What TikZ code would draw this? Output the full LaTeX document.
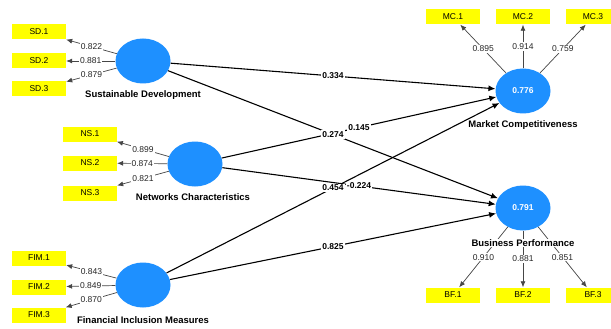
\documentclass[tikz,border=0pt]{standalone}
\usepackage{fontspec}
\setmainfont{Liberation Sans}
\usetikzlibrary{shapes.geometric,arrows.meta}
\definecolor{lvblue}{RGB}{30,144,255}
\definecolor{itemyellow}{RGB}{255,255,0}
\definecolor{loadgray}{RGB}{70,70,70}
\begin{document}
\begin{tikzpicture}[x=1pt,y=-1pt,
  latent/.style={ellipse,fill=lvblue,draw=none,minimum width=55pt,minimum height=45pt,inner sep=0pt,
    text=white,font=\fontsize{8.5}{10}\selectfont\bfseries},
  itembox/.style={rectangle,fill=itemyellow,draw=none,minimum width=54pt,minimum height=15pt,inner sep=0pt,
    font=\fontsize{8.5}{10}\selectfont},
  lvname/.style={font=\fontsize{9.5}{11}\selectfont\bfseries,inner sep=1pt,fill=white},
  structpath/.style={draw=black,line width=1.1pt,-{Latex[length=7pt,width=6pt]}},
  loadpath/.style={draw=loadgray,line width=0.7pt,-{Latex[length=6pt,width=5pt]}},
  pathlbl/.style={fill=white,inner sep=1pt,font=\fontsize{8.5}{10}\selectfont\bfseries,pos=0.5},
  loadlbl/.style={fill=white,inner sep=1pt,font=\fontsize{8.5}{10}\selectfont,text=black!85,pos=0.5}
]
\useasboundingbox (0,0) rectangle (611,329);
\clip (0,0) rectangle (611,329);
\fill[white] (0,0) rectangle (611,329);

% latent variables
\node[latent] (sd) at (143,61) {};
\node[latent] (ns) at (195,164) {};
\node[latent] (fim) at (143,285) {};
\node[latent] (mc) at (523,91) {0.776};
\node[latent] (bf) at (523,208) {0.791};

% indicators
\node[itembox] (sd1) at (39,32) {SD.1};
\node[itembox] (sd2) at (39,61) {SD.2};
\node[itembox] (sd3) at (39,89) {SD.3};
\node[itembox] (ns1) at (90,134) {NS.1};
\node[itembox] (ns2) at (90,163) {NS.2};
\node[itembox] (ns3) at (90,193) {NS.3};
\node[itembox] (fim1) at (39,258) {FIM.1};
\node[itembox] (fim2) at (39,287) {FIM.2};
\node[itembox] (fim3) at (39,315) {FIM.3};
\node[itembox] (mc1) at (453,17) {MC.1};
\node[itembox] (mc2) at (523,17) {MC.2};
\node[itembox] (mc3) at (593,17) {MC.3};
\node[itembox] (bf1) at (453,295) {BF.1};
\node[itembox] (bf2) at (523,295) {BF.2};
\node[itembox] (bf3) at (593,295) {BF.3};

% loadings
\draw[loadpath] (sd) -- node[loadlbl]{0.822} (sd1);
\draw[loadpath] (sd) -- node[loadlbl]{0.881} (sd2);
\draw[loadpath] (sd) -- node[loadlbl]{0.879} (sd3);
\draw[loadpath] (ns) -- node[loadlbl]{0.899} (ns1);
\draw[loadpath] (ns) -- node[loadlbl]{0.874} (ns2);
\draw[loadpath] (ns) -- node[loadlbl]{0.821} (ns3);
\draw[loadpath] (fim) -- node[loadlbl]{0.843} (fim1);
\draw[loadpath] (fim) -- node[loadlbl]{0.849} (fim2);
\draw[loadpath] (fim) -- node[loadlbl]{0.870} (fim3);
\draw[loadpath] (mc) -- node[loadlbl]{0.895} (mc1);
\draw[loadpath] (mc) -- node[loadlbl]{0.914} (mc2);
\draw[loadpath] (mc) -- node[loadlbl]{0.759} (mc3);
\draw[loadpath] (bf) -- node[loadlbl]{0.910} (bf1);
\draw[loadpath] (bf) -- node[loadlbl]{0.881} (bf2);
\draw[loadpath] (bf) -- node[loadlbl]{0.851} (bf3);

% structural paths
\draw[structpath] (sd) -- (mc);
\draw[structpath] (sd) -- (bf);
\draw[structpath] (ns) -- (mc);
\draw[structpath] (ns) -- (bf);
\draw[structpath] (fim) -- (mc);
\draw[structpath] (fim) -- (bf);
\path (sd) -- node[pathlbl]{0.334} (mc);
\path (sd) -- node[pathlbl]{0.274} (bf);
\path (ns) -- node[pathlbl]{0.145} (mc);
\path (ns) -- node[pathlbl]{-0.224} (bf);
\path (fim) -- node[pathlbl]{0.454} (mc);
\path (fim) -- node[pathlbl]{0.825} (bf);

% construct names
\node[lvname] (sdn) at (143,95) {Sustainable Development};
\node[lvname] (nsn) at (193,197) {Networks Characteristics};
\node[lvname] (fimn) at (143,320) {Financial Inclusion Measures};
\node[lvname] (mcn) at (523,125) {Market Competitiveness};
\node[lvname] (bfn) at (523,243) {Business Performance};
\end{tikzpicture}
\end{document}
